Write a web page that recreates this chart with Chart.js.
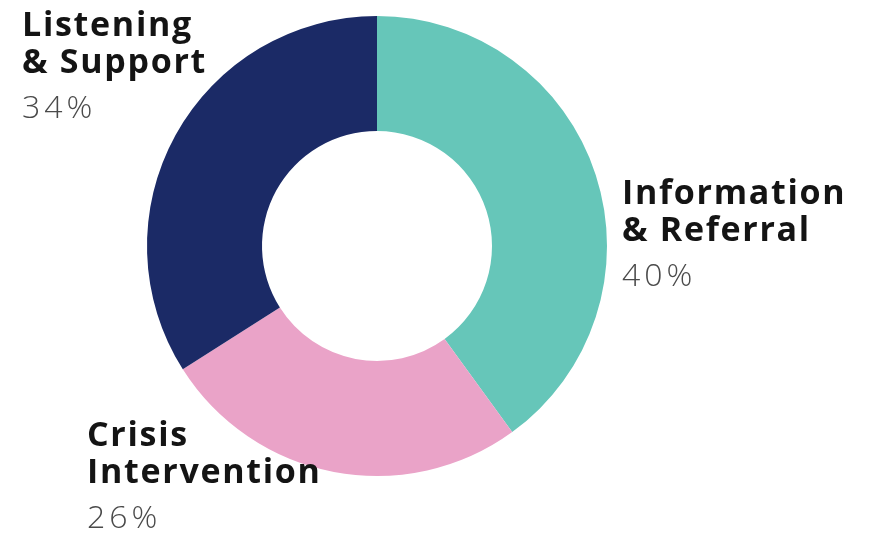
<!DOCTYPE html>
<html>
<head>
<meta charset="utf-8">
<script src="https://cdn.jsdelivr.net/npm/chart.js@4/dist/chart.umd.min.js"></script>
<style>
html,body{margin:0;padding:0;background:#fff;}
#wrap{position:relative;width:871px;height:533px;}
</style>
</head>
<body>
<div id="wrap"><canvas id="c" width="871" height="533"></canvas></div>
<script>
const categories = [["Information", "& Referral"], ["Crisis", "Intervention"], ["Listening", "& Support"]];
const values = [40, 26, 34];
const percentLabels = ["40%", "26%", "34%"];
const colors = ["#66C6B9", "#EAA3C8", "#1B2A66"];

// label anchor positions (left x, first baseline y) per category
const labelPos = [[622, 204], [87, 446], [22, 36]];

const labelPlugin = {
  id: 'sideLabels',
  afterDraw(chart) {
    const ctx = chart.ctx;
    ctx.save();
    ctx.textAlign = 'left';
    ctx.textBaseline = 'alphabetic';
    categories.forEach((lines, i) => {
      const [x, y] = labelPos[i];
      ctx.fillStyle = '#141414';
      ctx.font = '700 34px "Open Sans", sans-serif';
      ctx.letterSpacing = '1.7px';
      lines.forEach((ln, j) => ctx.fillText(ln, x, y + j * 37));
      ctx.fillStyle = '#4a4a4a';
      ctx.font = '300 32px "Open Sans", sans-serif';
      ctx.letterSpacing = '4px';
      ctx.fillText(percentLabels[i], x, y + 82);
    });
    ctx.restore();
  }
};

new Chart(document.getElementById('c'), {
  type: 'doughnut',
  data: {
    labels: categories.map(l => l.join(' ')),
    datasets: [{ data: values, backgroundColor: colors, borderWidth: 0 }]
  },
  options: {
    responsive: false,
    animation: false,
    cutout: '50%',
    layout: { padding: { left: 147, right: 264, top: 16, bottom: 57 } },
    plugins: { legend: { display: false }, tooltip: { enabled: false } }
  },
  plugins: [labelPlugin]
});
</script>
</body>
</html>
